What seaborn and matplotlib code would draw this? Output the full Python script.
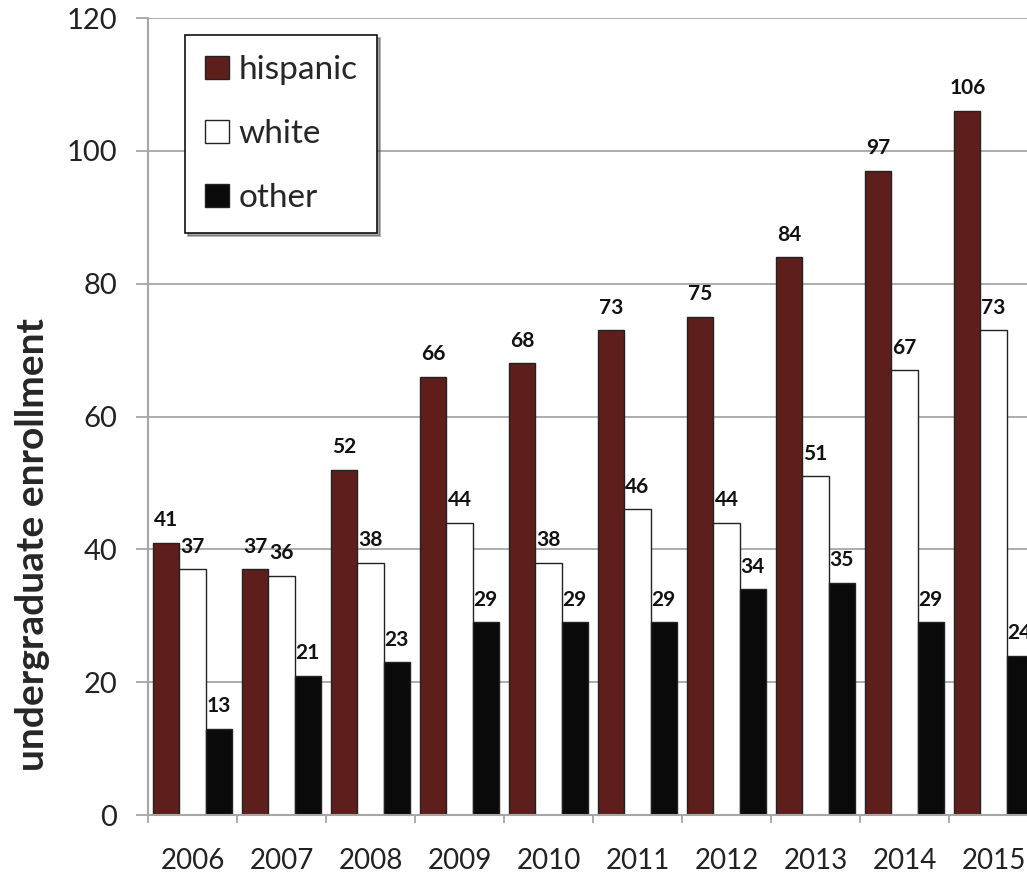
import pandas as pd
import numpy as np
import matplotlib
matplotlib.use("Agg")
import matplotlib.pyplot as plt
import seaborn as sns
from matplotlib.ticker import FixedLocator

years = ["2006", "2007", "2008", "2009", "2010", "2011", "2012", "2013", "2014", "2015"]
hispanic = [41, 37, 52, 66, 68, 73, 75, 84, 97, 106]
white = [37, 36, 38, 44, 38, 46, 44, 51, 67, 73]
other = [13, 21, 23, 29, 29, 29, 34, 35, 29, 24]
groups = ["hispanic", "white", "other"]
colors = ["#5e1f1c", "#ffffff", "#0a0a0a"]


def main():
    df = pd.DataFrame({
        "year": years * 3,
        "group": [g for g in groups for _ in years],
        "value": hispanic + white + other,
    })

    sns.set_style("white")
    plt.rcParams["font.family"] = ["Lato", "DejaVu Sans"]

    fig = plt.figure(figsize=(10.27, 8.74), dpi=100)
    # right edge runs past the figure, the last bar is cut like in the original
    ax = fig.add_axes([0.1441, 0.0675, 0.8666, 0.9119])

    sns.barplot(data=df, x="year", y="value", hue="group", hue_order=groups,
                palette=colors, width=0.88, edgecolor="#222222", linewidth=1.0,
                saturation=1, ax=ax, legend=True)

    for cont in ax.containers:
        ax.bar_label(cont, fmt="%d", padding=9, fontsize=15, fontweight="bold", color="#111111")

    ax.set_xlim(-0.5, 9.5)
    ax.set_ylim(0, 120)
    ax.set_yticks(np.arange(0, 121, 20))
    ax.yaxis.grid(True, color="#a6a6a6", linewidth=1.3)
    ax.set_axisbelow(True)

    for side in ["top", "right"]:
        ax.spines[side].set_visible(False)
    for side in ["left", "bottom"]:
        ax.spines[side].set_color("#a6a6a6")
        ax.spines[side].set_linewidth(1.5)

    ax.xaxis.set_minor_locator(FixedLocator(np.arange(-0.5, 10, 1)))
    ax.tick_params(axis="x", which="major", length=0, pad=24, labelsize=20, labelcolor="#222222")
    ax.tick_params(axis="x", which="minor", bottom=True, length=6, width=1.3, color="#a6a6a6")
    ax.tick_params(axis="y", which="major", left=True, length=9, width=1.3, color="#a6a6a6",
                   pad=13, labelsize=21, labelcolor="#222222")

    ax.set_xlabel("")
    ax.set_ylabel("undergraduate enrollment", fontsize=28, fontweight="bold", va="center")
    ax.yaxis.set_label_coords(-0.13, 0.34)

    handles, labels = ax.get_legend_handles_labels()
    leg = ax.legend(handles, labels, loc="upper left", bbox_to_anchor=(0.0416, 0.979),
                    borderaxespad=0, frameon=True, fancybox=False, shadow=True, fontsize=24,
                    handlelength=0.72, handleheight=0.68, handletextpad=0.28,
                    labelspacing=1.02, borderpad=0.6, title=None)
    leg.get_frame().set_edgecolor("#111111")
    leg.get_frame().set_linewidth(1.2)

    fig.savefig("out.png", dpi=100)


if __name__ == "__main__":
    main()
